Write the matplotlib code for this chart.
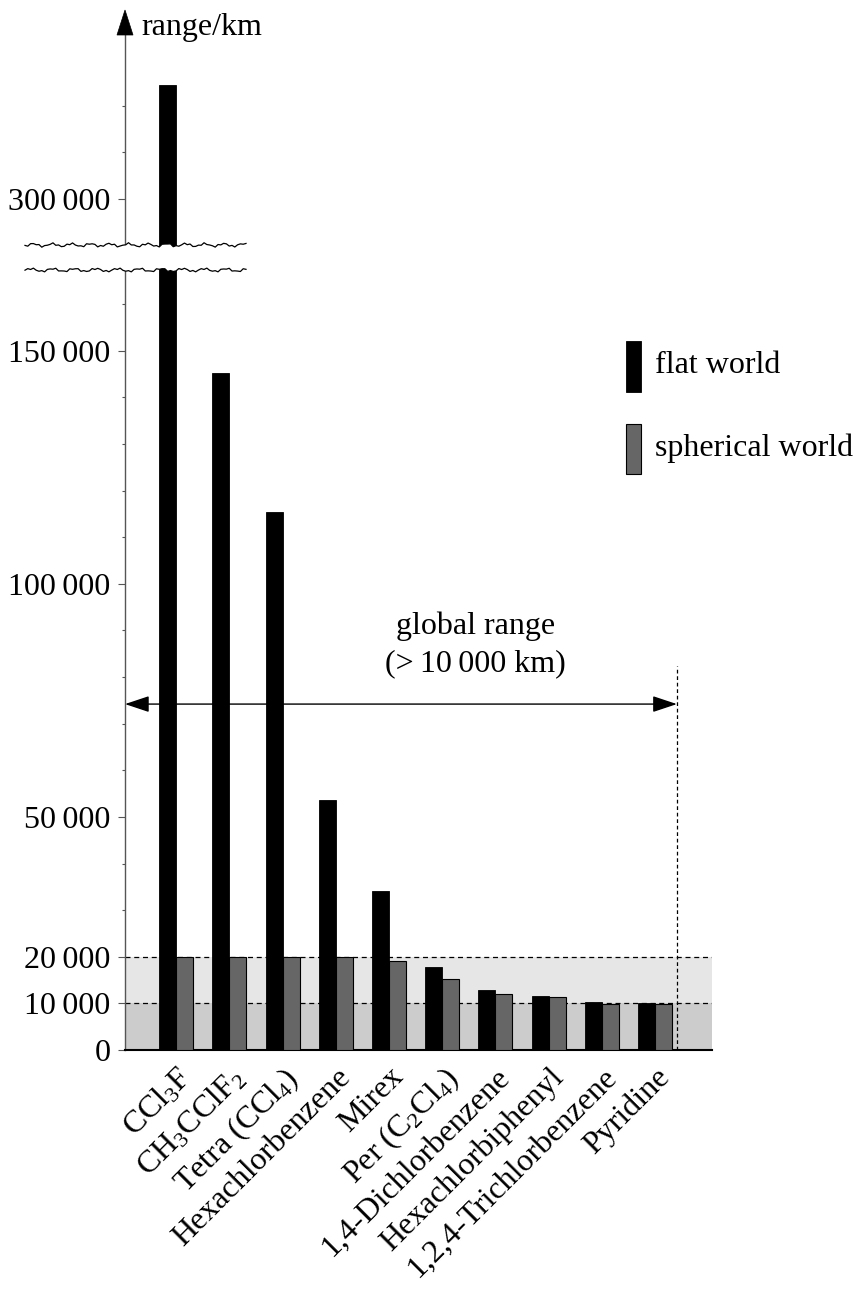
import matplotlib.pyplot as plt
import numpy as np
from matplotlib.patches import Polygon, Rectangle
from matplotlib.lines import Line2D

plt.rcParams['font.family'] = ['Liberation Serif', 'DejaVu Serif']
plt.rcParams['font.size'] = 23
plt.rcParams['mathtext.fontset'] = 'custom'
plt.rcParams['mathtext.rm'] = 'Liberation Serif'
plt.rcParams['mathtext.default'] = 'regular'

# data (range in km)
compounds = ['CCl$_3$F', 'CH$_3$CClF$_2$', 'Tetra (CCl$_4$)', 'Hexachlorbenzene',
             'Mirex', 'Per (C$_2$Cl$_4$)', '1,4-Dichlorbenzene',
             'Hexachlorbiphenyl', '1,2,4-Trichlorbenzene', 'Pyridine']
flat_world = [324400, 145200, 115500, 53600, 34000, 17900, 12800, 11650, 10200, 10000]
spherical_world = [20000, 20000, 20000, 19850, 19100, 15300, 12100, 11400, 9900, 9870]
lower_labels = [0, 10000, 20000, 50000, 100000, 150000]
lower_minor = [30000, 40000, 60000, 70000, 80000, 90000, 110000, 120000,
               130000, 140000, 160000]
upper_labels = [300000]
upper_minor = [310000, 320000]
global_limit = 10000
arrow_level = 74200
marker_top = 82400

# layout in pixels of the 863 x 1292 picture
W, H = 863, 1292
PPU = 46.62 / 10000          # pixels per km on the value axis
X0, X1 = 125, 712            # axes left / right
Y0 = 1050                    # value 0
YSPLIT = 258                 # between the two break lines
YTOP = 35                    # top of the upper part
Y300 = 199                   # where 300 000 sits
BW = 0.32


def fx(p):
    return p / W


def fy(p):
    return 1 - p / H


def fmt(v):
    return '{:,}'.format(v).replace(',', '\u2009')


fig = plt.figure(figsize=(W / 100, H / 100), dpi=100)
ax_lo = fig.add_axes([fx(X0), fy(Y0), (X1 - X0) / W, (Y0 - YSPLIT) / H])
ax_hi = fig.add_axes([fx(X0), fy(YSPLIT), (X1 - X0) / W, (YSPLIT - YTOP) / H])

x = np.arange(len(compounds))
xlim = (-0.962, 10.07)

for ax in (ax_lo, ax_hi):
    ax.bar(x - BW / 2, flat_world, BW, color='black', edgecolor='black',
           linewidth=0.6, zorder=3)
    ax.bar(x + BW / 2, spherical_world, BW, color='#666666', edgecolor='black',
           linewidth=0.8, zorder=3)
    ax.set_xlim(*xlim)
    for s in ['top', 'right']:
        ax.spines[s].set_visible(False)
    ax.spines['left'].set_color('#555555')
    ax.spines['left'].set_linewidth(1.0)
    ax.tick_params(axis='y', which='major', length=5, width=0.8,
                   color='#555555', pad=5.5)
    ax.tick_params(axis='y', which='minor', length=2.5, width=0.8,
                   color='#555555')

ax_lo.set_ylim(0, (Y0 - YSPLIT) / PPU)
ax_hi.set_ylim(300000 - (YSPLIT - Y300) / PPU, 300000 + (Y300 - YTOP) / PPU)

ax_lo.set_yticks(lower_labels, [fmt(v) for v in lower_labels])
ax_lo.set_yticks(lower_minor, minor=True)
ax_hi.set_yticks(upper_labels, [fmt(v) for v in upper_labels])
ax_hi.set_yticks(upper_minor, minor=True)

ax_hi.spines['bottom'].set_visible(False)
ax_hi.set_xticks([])
ax_lo.spines['bottom'].set_linewidth(1.5)

ax_lo.set_xticks(x, compounds)
ax_lo.tick_params(axis='x', length=0, pad=9)
plt.setp(ax_lo.get_xticklabels(), rotation=45, ha='right',
         rotation_mode='anchor')

# shaded ranges and dashed guides
ax_lo.axhspan(0, global_limit, color='#cccccc', zorder=0, lw=0)
ax_lo.axhspan(global_limit, 2 * global_limit, color='#e6e6e6', zorder=0, lw=0)
for lev in [global_limit, 2 * global_limit]:
    ax_lo.axhline(lev, color='black', lw=0.9, ls=(0, (4, 3)), zorder=1)
xg = 9.41
ax_lo.plot([xg, xg], [0, marker_top], color='black', lw=0.9,
           ls=(0, (3, 2.2)), zorder=4)

ax_lo.annotate('', xy=(xg, arrow_level), xytext=(xlim[0], arrow_level),
               arrowprops=dict(arrowstyle='<|-|>,head_length=0.6,head_width=0.2',
                               mutation_scale=25, color='black', lw=1,
                               shrinkA=0, shrinkB=0), zorder=5)
ax_lo.text(5.63, 90900, 'global range', ha='center', va='center')
ax_lo.text(5.63, 82800, '(>\u200910\u2009000 km)', ha='center', va='center')

# axis break
xs = np.linspace(25, 246, 80)
wave1 = 245 + 1.4 * np.sin(0.33 * xs) + 0.9 * np.sin(0.91 * xs + 1.0)
wave2 = 270 + 1.4 * np.sin(0.29 * xs + 2.0) + 0.9 * np.sin(0.87 * xs + 0.3)
pts = np.column_stack([np.r_[xs, xs[::-1]], np.r_[wave1, wave2[::-1]]])
pts_fig = np.column_stack([pts[:, 0] / W, 1 - pts[:, 1] / H])
fig.add_artist(Polygon(pts_fig, closed=True, facecolor='white', edgecolor='none',
                       transform=fig.transFigure, zorder=5))
for wv in (wave1, wave2):
    fig.add_artist(Line2D(xs / W, 1 - wv / H, color='black', lw=0.9,
                          transform=fig.transFigure, zorder=6))

# arrow head on the value axis
fig.add_artist(Polygon([[fx(117), fy(35)], [fx(133), fy(35)], [fx(125), fy(10)]],
                       closed=True, facecolor='black', edgecolor='black',
                       lw=0.5, transform=fig.transFigure, zorder=6))
fig.text(fx(141), fy(28), 'range/km', ha='left', va='center')

# legend
fig.add_artist(Rectangle((fx(626), fy(392)), 15 / W, 51 / H, facecolor='black',
                         edgecolor='black', lw=0.6, transform=fig.transFigure))
fig.add_artist(Rectangle((fx(626), fy(474)), 15 / W, 50 / H, facecolor='#666666',
                         edgecolor='black', lw=0.8, transform=fig.transFigure))
fig.text(fx(655), fy(366), 'flat world', ha='left', va='center')
fig.text(fx(655), fy(448), 'spherical world', ha='left', va='center')

fig.savefig('out.png', dpi=100)
